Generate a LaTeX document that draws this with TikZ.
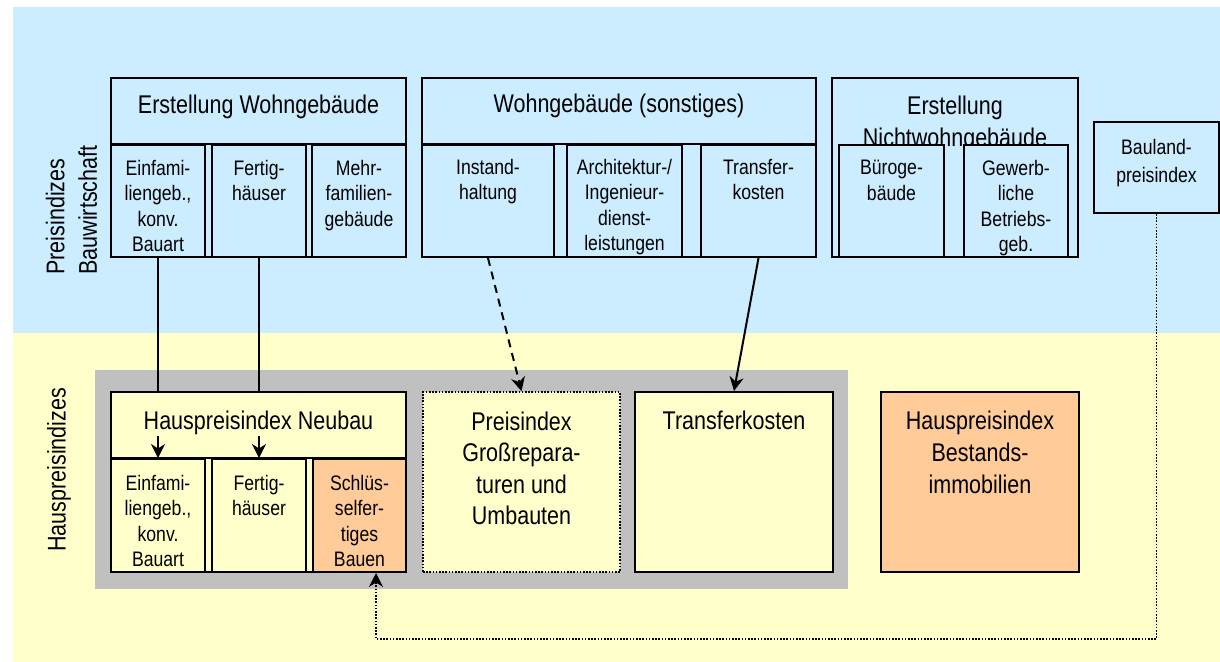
\documentclass[tikz,border=0pt]{standalone}
\usepackage{fontspec}
\setmainfont{Liberation Sans}[FakeStretch=0.84]
\usetikzlibrary{arrows.meta, positioning, fit}
\definecolor{baublue}{HTML}{CCECFF}
\definecolor{hausyellow}{HTML}{FFFFCC}
\definecolor{peach}{HTML}{FFCC99}
\definecolor{framegray}{HTML}{C0C0C0}

\begin{document}
\begin{tikzpicture}[
  x=0.5pt, y=-0.5pt,
  cell/.style={draw, line width=1pt, inner sep=0pt},
  upbox/.style={cell, fill=baublue},
  lowbox/.style={cell, fill=hausyellow},
  keybox/.style={cell, fill=peach},
  big/.style={font=\fontsize{12.8}{15.8}\selectfont, align=center, inner sep=0pt},
  small/.style={font=\fontsize{10.5}{12.65}\selectfont, align=center, inner sep=0pt},
  side/.style={font=\fontsize{12.8}{16.25}\selectfont, rotate=90, inner sep=0pt, anchor=west},
  feed/.style={line width=1pt},
  link/.style={line width=1pt, -{Stealth[length=7pt, width=7pt]}},
  dashlink/.style={link, dash pattern=on 4pt off 3pt},
  dotlink/.style={link, line width=0.8pt, dash pattern=on 0.8pt off 0.8pt},
]
  \useasboundingbox (0,0) rectangle (1220,662);

  %% backgrounds
  \fill[baublue] (13,7) rectangle (1220,333);
  \fill[hausyellow] (13,333) rectangle (1220,662);

  \node[side, align=left] (lbl-bau) at (71.5,275) {Preisindizes\\Bauwirtschaft};
  \node[side] (lbl-haus) at (59,552) {Hauspreisindizes};

  %% ─── Preisindizes Bauwirtschaft ─────────────────────────────────────
  % Erstellung Wohngebaeude
  \node[upbox, fit={(111,78)(406,257)}] (ewg) {};
  \node[big, below=9pt of ewg.north] (ewg-t) {Erstellung Wohngebäude};
  \node[upbox, fit={(111,145)(205,257)}] (ewg1) {};
  \node[upbox, fit={(212,145)(306,257)}] (ewg2) {};
  \node[upbox, fit={(312,145)(406,257)}] (ewg3) {};
  \draw[feed] (ewg1.north west) -- (ewg3.north east);
  \node[small, below=8pt of ewg1.north] (ewg1-t) {Einfami-\\liengeb.,\\konv.\\Bauart};
  \node[small, below=8pt of ewg2.north] (ewg2-t) {Fertig-\\häuser};
  \node[small, below=8pt of ewg3.north] (ewg3-t) {Mehr-\\familien-\\gebäude};

  % Wohngebaeude (sonstiges)
  \node[upbox, fit={(422,78)(816,257)}] (wgs) {};
  \node[big, below=8.5pt of wgs.north] (wgs-t) {Wohngebäude (sonstiges)};
  \node[upbox, fit={(422,145)(554,257)}] (wgs1) {};
  \node[upbox, fit={(567,145)(682,257)}] (wgs2) {};
  \node[upbox, fit={(701,145)(816,257)}] (wgs3) {};
  \draw[feed] (wgs1.north west) -- (wgs3.north east);
  \node[small, below=7.5pt of wgs1.north] (wgs1-t) {Instand-\\haltung};
  \node[small, below=7.5pt of wgs2.north] (wgs2-t) {Architektur-/\\Ingenieur-\\dienst-\\leistungen};
  \node[small, below=7.5pt of wgs3.north] (wgs3-t) {Transfer-\\kosten};

  % Erstellung Nichtwohngebaeude
  \node[upbox, fit={(832,78)(1078,257)}] (enw) {};
  \node[big, below=9.5pt of enw.north] (enw-t) {Erstellung\\Nichtwohngebäude};
  \node[upbox, fit={(839,145)(944,257)}] (enw1) {};
  \node[upbox, fit={(964,145)(1068,257)}] (enw2) {};
  \node[small, below=8pt of enw1.north] (enw1-t) {Büroge-\\bäude};
  \node[small, below=8pt of enw2.north] (enw2-t) {Gewerb-\\liche\\Betriebs-\\geb.};

  % Baulandpreise
  \node[upbox, fit={(1094,122)(1219,213)}] (bl) {};
  \node[small, font=\fontsize{10.5}{13.8}\selectfont, below=9pt of bl.north] (bl-t) {Bauland-\\preisindex};

  %% ─── Hauspreisindizes ───────────────────────────────────────────────
  \node[fill=framegray, inner sep=0pt, fit={(95,370)(848,589)}] (hpi) {};

  % Neubau
  \node[lowbox, fit={(111,392)(406,572)}] (hpn) {};
  \node[big, below=10pt of hpn.north] (hpn-t) {Hauspreisindex Neubau};
  \node[lowbox, fit={(111,459)(205,572)}] (hpn1) {};
  \node[lowbox, fit={(212,459)(306,572)}] (hpn2) {};
  \node[keybox, fit={(313,459)(406,572)}] (hpn3) {};
  \draw[feed] (hpn1.north west) -- (hpn3.north east);
  \node[small, below=8.5pt of hpn1.north] (hpn1-t) {Einfami-\\liengeb.,\\konv.\\Bauart};
  \node[small, below=8.5pt of hpn2.north] (hpn2-t) {Fertig-\\häuser};
  \node[small, below=8.5pt of hpn3.north] (hpn3-t) {Schlüs-\\selfer-\\tiges\\Bauen};

  \node[lowbox, line width=0.8pt, dash pattern=on 0.8pt off 0.8pt,
        fit={(423,392)(620,572)}] (gross) {};
  \node[big, below=10pt of gross.north] (gross-t) {Preisindex\\Großrepara-\\turen und\\Umbauten};

  \node[lowbox, fit={(635,392)(833,572)}] (tk) {};
  \node[big, below=10pt of tk.north] (tk-t) {Transferkosten};

  \node[keybox, fit={(881,392)(1079,572)}] (hbi) {};
  \node[big, below=10pt of hbi.north] (hbi-t) {Hauspreisindex\\Bestands-\\immobilien};

  %% ─── connectors ─────────────────────────────────────────────────────
  \draw[feed] (ewg1.south) -- (ewg1.south |- hpn.north);
  \draw[feed] (ewg2.south) -- (ewg2.south |- hpn.north);
  \coordinate[above=11pt of hpn1.north] (in1);
  \coordinate[above=11pt of hpn2.north] (in2);
  \draw[link] (in1) -- (hpn1.north);
  \draw[link] (in2) -- (hpn2.north);

  \draw[dashlink] (wgs1.south) -- (gross.north);
  \draw[link] (wgs3.south) -- (tk.north);

  \coordinate (ret) at (376,639);
  \draw[dotlink] (bl.south) |- (ret) -- (ret |- hpn3.south);
\end{tikzpicture}
\end{document}
